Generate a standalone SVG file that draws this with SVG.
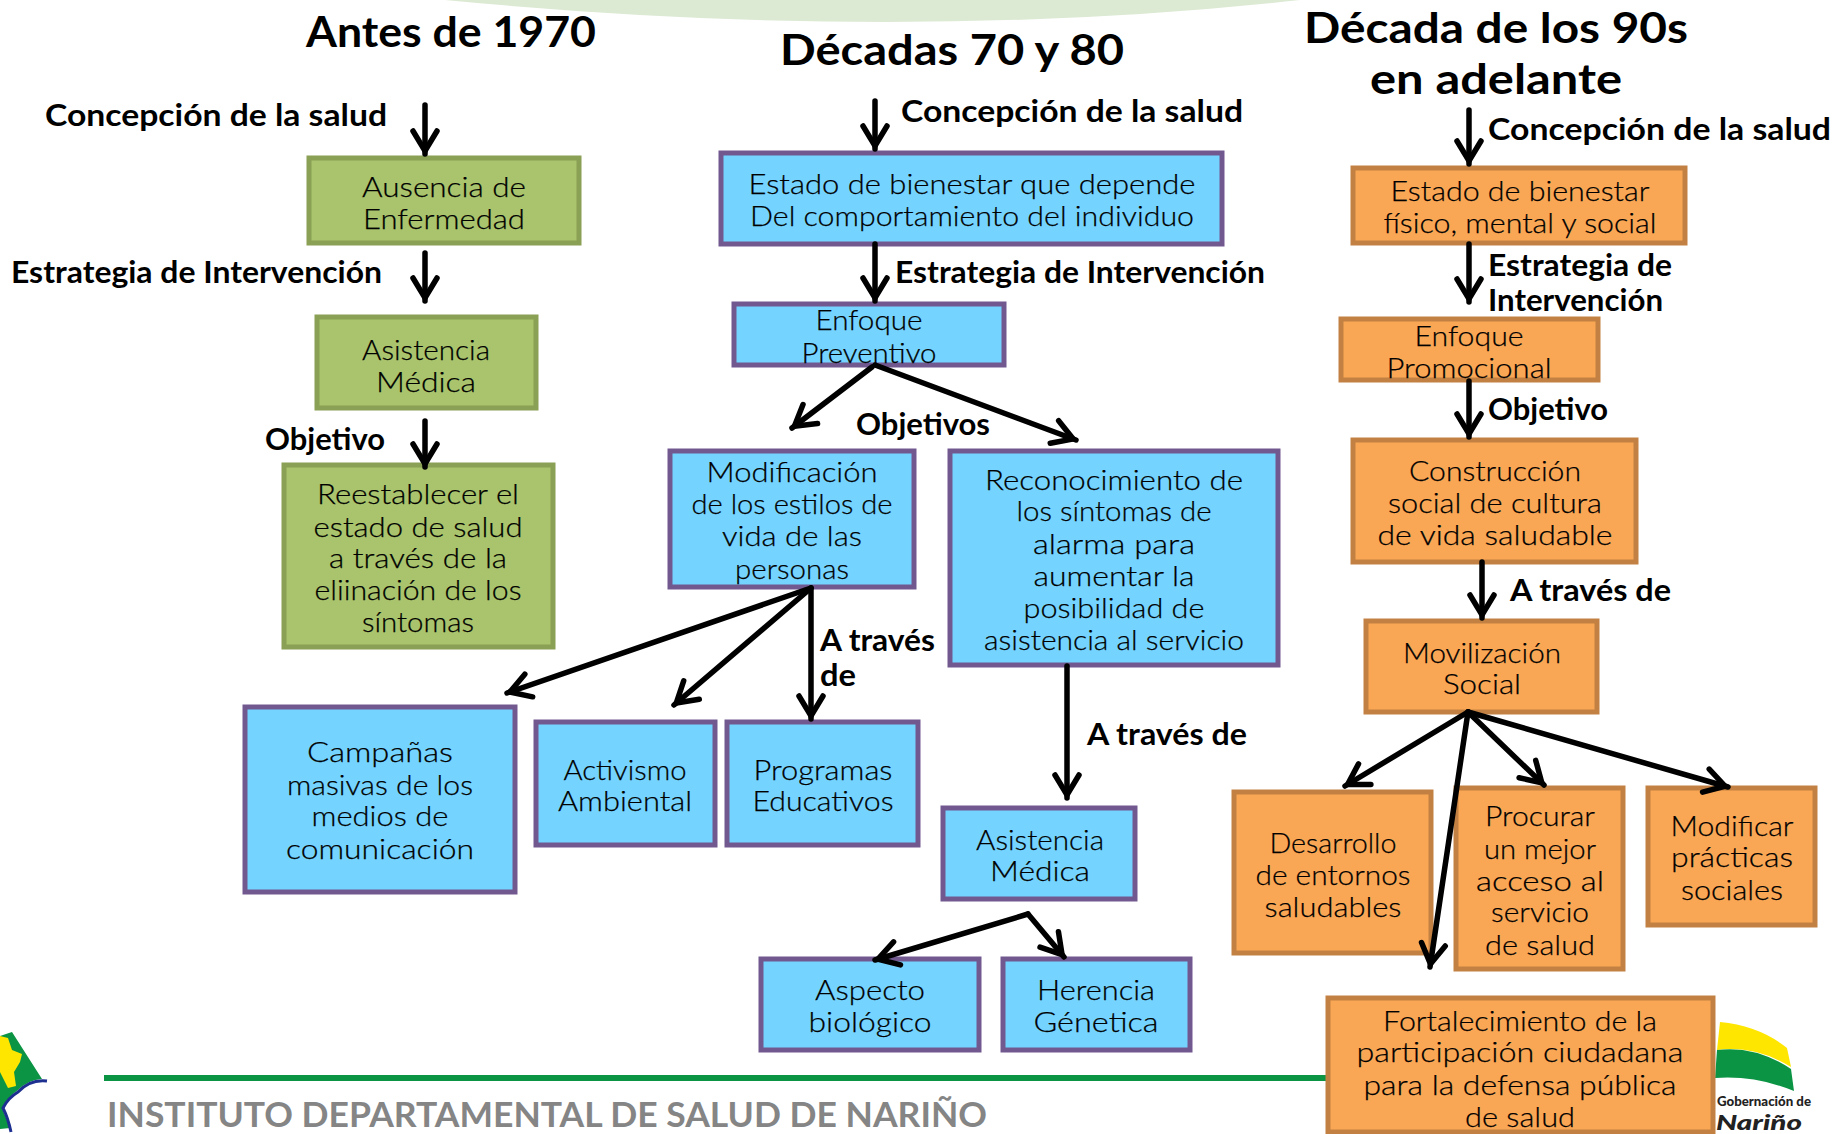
<svg xmlns="http://www.w3.org/2000/svg" width="1832" height="1134" viewBox="0 0 1832 1134">
<style>
text{font-family:"Lato","Noto Sans","Liberation Sans",sans-serif;fill:#111}
.t{font-size:28px;text-anchor:middle;font-weight:300;fill:#000;transform:translateY(2px);stroke:#000;stroke-width:.25px}
.b{font-size:30px;font-weight:700;fill:#000}
.h{font-size:42px;font-weight:700;text-anchor:middle;fill:#000}
rect.r{stroke-width:5;rx:2px}
.g rect{fill:#A9C46C;stroke:#8AA055;stroke-width:5}
.u rect{fill:#75D4FF;stroke:#71588F;stroke-width:5}
.o rect{fill:#FAA755;stroke:#C28142;stroke-width:5}
#connectors line{stroke:#000;stroke-width:5.5;stroke-linecap:round;marker-end:url(#a)}
</style>
<defs><marker id="a" markerUnits="userSpaceOnUse" markerWidth="36" markerHeight="36" refX="29" refY="16" orient="auto"><path d="M6 4L26 16L6 28" fill="none" stroke="#000" stroke-width="5.5" stroke-linecap="round" stroke-miterlimit="8"/></marker></defs>
<rect width="1832" height="1134" fill="#fff"/>
<g id="decor">
<path d="M445 0Q900 44 1300 0Z" fill="#DCE9D3"/>
<rect x="104" y="1075" width="1224" height="6" fill="#0B9444"/>
<text x="107" y="1126.5" font-size="35" font-weight="700" style="fill:#858585" textLength="880" lengthAdjust="spacingAndGlyphs">INSTITUTO DEPARTAMENTAL DE SALUD DE NARIÑO</text>
<path d="M12 1032L42 1079Q28 1080 18 1090Q8 1097 2 1108L10 1128L0 1129L0 1036Z" fill="#0B9444"/>
<path d="M0 1036L8 1038L12 1050L22 1054L20 1062L14 1072L16 1086L8 1088L0 1072Z" fill="#FFE600"/>
<path d="M47 1081Q30 1079 18 1092Q8 1098 3 1108Q8 1118 11 1132" fill="none" stroke="#1D2F8F" stroke-width="3"/>
<path d="M1720 1022Q1760 1026 1787 1048L1791 1067Q1755 1045 1717 1050Z" fill="#FFE600"/>
<path d="M1717 1050Q1755 1045 1791 1069L1794 1091Q1755 1075 1715 1078Z" fill="#0B9444"/>
<text x="1717" y="1106" font-size="13" font-weight="900" style="fill:#222" textLength="94" lengthAdjust="spacingAndGlyphs">Gobernación de</text>
<text x="1716" y="1129.5" font-size="21" font-weight="900" font-style="italic" style="fill:#222" textLength="86" lengthAdjust="spacingAndGlyphs">Nariño</text>
</g>
<g id="titles">
<text class="h" x="451" y="47" textLength="290" lengthAdjust="spacingAndGlyphs">Antes de 1970</text>
<text class="h" x="952" y="65" textLength="344" lengthAdjust="spacingAndGlyphs">Décadas 70 y 80</text>
<text class="h" x="1496" y="43" textLength="384" lengthAdjust="spacingAndGlyphs">Década de los 90s</text>
<text class="h" x="1496" y="94" textLength="252" lengthAdjust="spacingAndGlyphs">en adelante</text>
</g>
<g id="n1" class="g"><rect x="309" y="158" width="270" height="85"/>
<text class="t" x="444" y="195" textLength="164" lengthAdjust="spacingAndGlyphs">Ausencia de</text><text class="t" x="444" y="227" textLength="162" lengthAdjust="spacingAndGlyphs">Enfermedad</text></g>
<g id="n2" class="g"><rect x="317" y="317" width="219" height="91"/>
<text class="t" x="426" y="358" textLength="128" lengthAdjust="spacingAndGlyphs">Asistencia</text><text class="t" x="426" y="390" textLength="100" lengthAdjust="spacingAndGlyphs">Médica</text></g>
<g id="n3" class="g"><rect x="284" y="465" width="269" height="182"/>
<text class="t" x="418" y="502" textLength="202" lengthAdjust="spacingAndGlyphs">Reestablecer el</text><text class="t" x="418" y="535" textLength="209" lengthAdjust="spacingAndGlyphs">estado de salud</text><text class="t" x="418" y="566" textLength="178" lengthAdjust="spacingAndGlyphs">a través de la</text><text class="t" x="418" y="598" textLength="207" lengthAdjust="spacingAndGlyphs">eliinación de los</text><text class="t" x="418" y="630" textLength="112" lengthAdjust="spacingAndGlyphs">síntomas</text></g>
<g id="n4" class="u"><rect x="245" y="707" width="270" height="185"/>
<text class="t" x="380" y="760" textLength="146" lengthAdjust="spacingAndGlyphs">Campañas</text><text class="t" x="380" y="793" textLength="186" lengthAdjust="spacingAndGlyphs">masivas de los</text><text class="t" x="380" y="824" textLength="137" lengthAdjust="spacingAndGlyphs">medios de</text><text class="t" x="380" y="857" textLength="188" lengthAdjust="spacingAndGlyphs">comunicación</text></g>
<g id="n5" class="u"><rect x="536" y="722" width="179" height="123"/>
<text class="t" x="625" y="778" textLength="123" lengthAdjust="spacingAndGlyphs">Activismo</text><text class="t" x="625" y="809" textLength="134" lengthAdjust="spacingAndGlyphs">Ambiental</text></g>
<g id="n6" class="u"><rect x="727" y="722" width="191" height="123"/>
<text class="t" x="823" y="778" textLength="139" lengthAdjust="spacingAndGlyphs">Programas</text><text class="t" x="823" y="809" textLength="141" lengthAdjust="spacingAndGlyphs">Educativos</text></g>
<g id="n7" class="u"><rect x="721" y="153" width="501" height="91"/>
<text class="t" x="972" y="192" textLength="447" lengthAdjust="spacingAndGlyphs">Estado de bienestar que depende</text><text class="t" x="972" y="224" textLength="444" lengthAdjust="spacingAndGlyphs">Del comportamiento del individuo</text></g>
<g id="n8" class="u"><rect x="734" y="304" width="270" height="61"/>
<text class="t" x="869" y="328" textLength="107" lengthAdjust="spacingAndGlyphs">Enfoque</text><text class="t" x="869" y="361" textLength="135" lengthAdjust="spacingAndGlyphs">Preventivo</text></g>
<g id="n9" class="u"><rect x="670" y="451" width="244" height="136"/>
<text class="t" x="792" y="480" textLength="171" lengthAdjust="spacingAndGlyphs">Modificación</text><text class="t" x="792" y="512" textLength="201" lengthAdjust="spacingAndGlyphs">de los estilos de</text><text class="t" x="792" y="544" textLength="140" lengthAdjust="spacingAndGlyphs">vida de las</text><text class="t" x="792" y="577" textLength="114" lengthAdjust="spacingAndGlyphs">personas</text></g>
<g id="n10" class="u"><rect x="950" y="451" width="328" height="214"/>
<text class="t" x="1114" y="488" textLength="258" lengthAdjust="spacingAndGlyphs">Reconocimiento de</text><text class="t" x="1114" y="519" textLength="195" lengthAdjust="spacingAndGlyphs">los síntomas de</text><text class="t" x="1114" y="552" textLength="162" lengthAdjust="spacingAndGlyphs">alarma para</text><text class="t" x="1114" y="584" textLength="161" lengthAdjust="spacingAndGlyphs">aumentar la</text><text class="t" x="1114" y="616" textLength="181" lengthAdjust="spacingAndGlyphs">posibilidad de</text><text class="t" x="1114" y="648" textLength="260" lengthAdjust="spacingAndGlyphs">asistencia al servicio</text></g>
<g id="n11" class="u"><rect x="943" y="808" width="192" height="91"/>
<text class="t" x="1040" y="848" textLength="128" lengthAdjust="spacingAndGlyphs">Asistencia</text><text class="t" x="1040" y="879" textLength="100" lengthAdjust="spacingAndGlyphs">Médica</text></g>
<g id="n12" class="u"><rect x="761" y="959" width="218" height="91"/>
<text class="t" x="870" y="998" textLength="110" lengthAdjust="spacingAndGlyphs">Aspecto</text><text class="t" x="870" y="1030" textLength="123" lengthAdjust="spacingAndGlyphs">biológico</text></g>
<g id="n13" class="u"><rect x="1003" y="959" width="187" height="91"/>
<text class="t" x="1096" y="998" textLength="118" lengthAdjust="spacingAndGlyphs">Herencia</text><text class="t" x="1096" y="1030" textLength="125" lengthAdjust="spacingAndGlyphs">Génetica</text></g>
<g id="n14" class="o"><rect x="1353" y="168" width="332" height="75"/>
<text class="t" x="1520" y="199" textLength="259" lengthAdjust="spacingAndGlyphs">Estado de bienestar</text><text class="t" x="1520" y="231" textLength="273" lengthAdjust="spacingAndGlyphs">físico, mental y social</text></g>
<g id="n15" class="o"><rect x="1341" y="319" width="257" height="61"/>
<text class="t" x="1469" y="344" textLength="109" lengthAdjust="spacingAndGlyphs">Enfoque</text><text class="t" x="1469" y="376" textLength="165" lengthAdjust="spacingAndGlyphs">Promocional</text></g>
<g id="n16" class="o"><rect x="1353" y="440" width="283" height="122"/>
<text class="t" x="1495" y="479" textLength="172" lengthAdjust="spacingAndGlyphs">Construcción</text><text class="t" x="1495" y="511" textLength="214" lengthAdjust="spacingAndGlyphs">social de cultura</text><text class="t" x="1495" y="543" textLength="235" lengthAdjust="spacingAndGlyphs">de vida saludable</text></g>
<g id="n17" class="o"><rect x="1366" y="621" width="231" height="91"/>
<text class="t" x="1482" y="661" textLength="158" lengthAdjust="spacingAndGlyphs">Movilización</text><text class="t" x="1482" y="692" textLength="78" lengthAdjust="spacingAndGlyphs">Social</text></g>
<g id="n18" class="o"><rect x="1234" y="792" width="197" height="161"/>
<text class="t" x="1333" y="851" textLength="127" lengthAdjust="spacingAndGlyphs">Desarrollo</text><text class="t" x="1333" y="883" textLength="155" lengthAdjust="spacingAndGlyphs">de entornos</text><text class="t" x="1333" y="915" textLength="137" lengthAdjust="spacingAndGlyphs">saludables</text></g>
<g id="n19" class="o"><rect x="1456" y="788" width="167" height="181"/>
<text class="t" x="1540" y="824" textLength="110" lengthAdjust="spacingAndGlyphs">Procurar</text><text class="t" x="1540" y="857" textLength="112" lengthAdjust="spacingAndGlyphs">un mejor</text><text class="t" x="1540" y="889" textLength="128" lengthAdjust="spacingAndGlyphs">acceso al</text><text class="t" x="1540" y="920" textLength="98" lengthAdjust="spacingAndGlyphs">servicio</text><text class="t" x="1540" y="953" textLength="110" lengthAdjust="spacingAndGlyphs">de salud</text></g>
<g id="n20" class="o"><rect x="1648" y="788" width="167" height="137"/>
<text class="t" x="1732" y="834" textLength="123" lengthAdjust="spacingAndGlyphs">Modificar</text><text class="t" x="1732" y="865" textLength="122" lengthAdjust="spacingAndGlyphs">prácticas</text><text class="t" x="1732" y="898" textLength="102" lengthAdjust="spacingAndGlyphs">sociales</text></g>
<g id="n21" class="o"><rect x="1328" y="998" width="385" height="134"/>
<text class="t" x="1520" y="1029" textLength="274" lengthAdjust="spacingAndGlyphs">Fortalecimiento de la</text><text class="t" x="1520" y="1060" textLength="327" lengthAdjust="spacingAndGlyphs">participación ciudadana</text><text class="t" x="1520" y="1093" textLength="313" lengthAdjust="spacingAndGlyphs">para la defensa pública</text><text class="t" x="1520" y="1125" textLength="110" lengthAdjust="spacingAndGlyphs">de salud</text></g>
<g id="labels">
<text class="b" x="45" y="126" textLength="342" lengthAdjust="spacingAndGlyphs">Concepción de la salud</text>
<text class="b" x="11" y="283" textLength="371" lengthAdjust="spacingAndGlyphs">Estrategia de Intervención</text>
<text class="b" x="265" y="450" textLength="120" lengthAdjust="spacingAndGlyphs">Objetivo</text>
<text class="b" x="901" y="122" textLength="342" lengthAdjust="spacingAndGlyphs">Concepción de la salud</text>
<text class="b" x="895" y="283" textLength="370" lengthAdjust="spacingAndGlyphs">Estrategia de Intervención</text>
<text class="b" x="856" y="435" textLength="134" lengthAdjust="spacingAndGlyphs">Objetivos</text>
<text class="b" x="820" y="651" textLength="115" lengthAdjust="spacingAndGlyphs">A través</text>
<text class="b" x="820" y="686" textLength="36" lengthAdjust="spacingAndGlyphs">de</text>
<text class="b" x="1087" y="745" textLength="160" lengthAdjust="spacingAndGlyphs">A través de</text>
<text class="b" x="1488" y="140" textLength="343" lengthAdjust="spacingAndGlyphs">Concepción de la salud</text>
<text class="b" x="1488" y="276" textLength="184" lengthAdjust="spacingAndGlyphs">Estrategia de</text>
<text class="b" x="1488" y="311" textLength="175" lengthAdjust="spacingAndGlyphs">Intervención</text>
<text class="b" x="1488" y="420" textLength="120" lengthAdjust="spacingAndGlyphs">Objetivo</text>
<text class="b" x="1510" y="601" textLength="161" lengthAdjust="spacingAndGlyphs">A través de</text>
</g>
<g id="connectors">
<line x1="425" y1="105" x2="425" y2="154"/><line x1="425" y1="253" x2="425" y2="301"/><line x1="425" y1="421" x2="425" y2="467"/>
<line x1="875" y1="101" x2="875" y2="149"/><line x1="875" y1="244" x2="875" y2="301"/><line x1="872" y1="367" x2="792" y2="428"/><line x1="875" y1="365" x2="1076" y2="440"/>
<line x1="811" y1="588" x2="507" y2="693"/><line x1="811" y1="588" x2="674" y2="705"/><line x1="811" y1="588" x2="811" y2="719"/>
<line x1="1067" y1="666" x2="1067" y2="798"/>
<line x1="1028" y1="914" x2="875" y2="960"/><line x1="1028" y1="914" x2="1064" y2="957"/>
<line x1="1469" y1="110" x2="1469" y2="164"/><line x1="1469" y1="244" x2="1469" y2="302"/><line x1="1469" y1="381" x2="1469" y2="437"/><line x1="1482" y1="562" x2="1482" y2="618"/>
<line x1="1468" y1="712" x2="1345" y2="786"/><line x1="1468" y1="712" x2="1430" y2="967"/><line x1="1468" y1="712" x2="1544" y2="785"/><line x1="1468" y1="712" x2="1728" y2="787"/>
</g>
</svg>
